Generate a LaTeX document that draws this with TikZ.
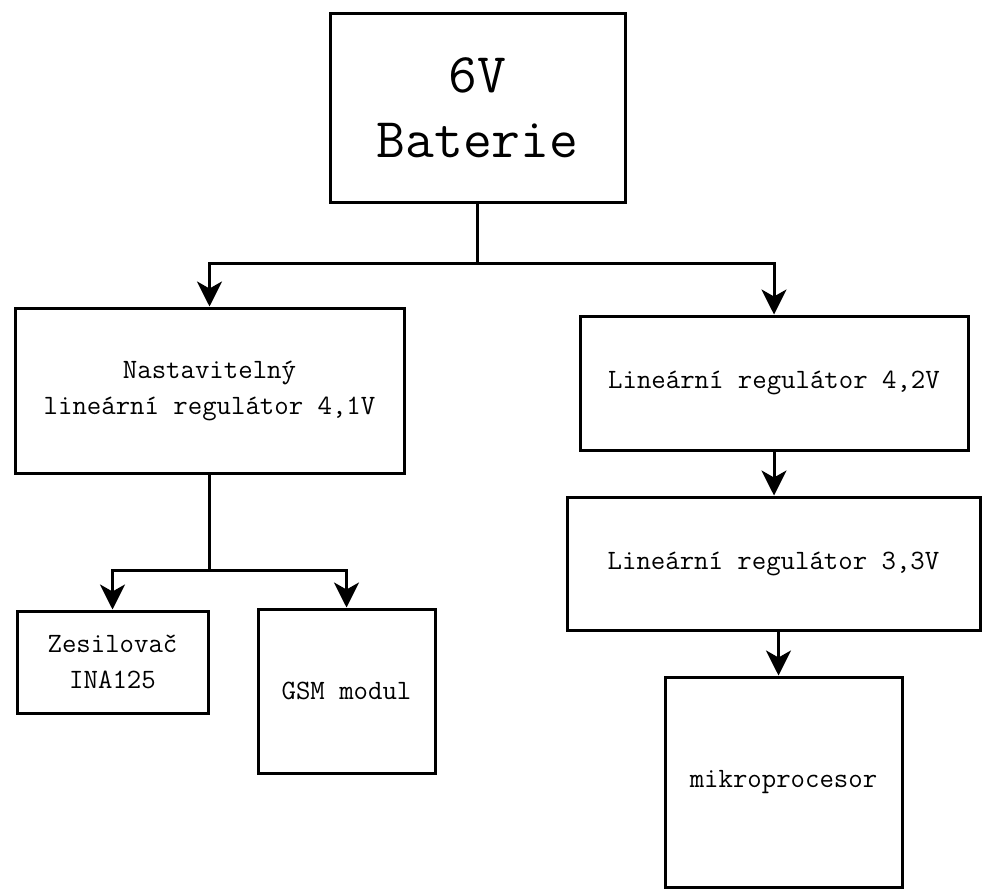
\documentclass[tikz,border=0pt]{standalone}
\usepackage{fontspec}
\usepackage{tikz}
\usetikzlibrary{arrows.meta,calc}

\begin{document}
\begin{tikzpicture}[x=1pt, y=-1pt,
    blok/.style={draw, line width=3pt, inner sep=0pt, align=center,
      font=\fontsize{28}{36}\selectfont\ttfamily},
    sipka/.style={line width=3pt, -{Stealth[length=25pt, width=25pt, inset=7pt]}}]
  % Fix the page size
  \useasboundingbox (0,0) rectangle (983,889);

  % Draw the battery
  \node[blok, minimum width=295pt, minimum height=189pt,
    font=\fontsize{56}{65}\selectfont\ttfamily] (bat) at (477.5,107.5) {6V\\Baterie};

  % Draw the regulators
  \node[blok, minimum width=389pt, minimum height=165pt] (reg41) at (209.5,390.5)
    {Nastavitelný\\lineární regulátor 4,1V};
  \node[blok, minimum width=388pt, minimum height=134pt] (reg42) at (774,383)
    {Lineární regulátor 4,2V};
  \node[blok, minimum width=413pt, minimum height=133pt] (reg33) at (773.5,563.5)
    {Lineární regulátor 3,3V};

  % Draw the loads
  \node[blok, minimum width=191pt, minimum height=102pt] (zes) at (112.5,662)
    {Zesilovač\\INA125};
  \node[blok, minimum width=177pt, minimum height=164pt] (gsm) at (346.5,691)
    {GSM modul};
  \node[blok, minimum width=237pt, minimum height=210pt] (mcu) at (783.5,782)
    {mikroprocesor};

  % Draw the branch from the battery
  \coordinate (rozb1) at (477.5,263);
  \draw[line width=3pt] (bat.south) -- (rozb1);
  \draw[sipka] (rozb1) -| (reg41.north);
  \draw[sipka] (rozb1) -| (reg42.north);

  % Draw the chain on the right
  \draw[sipka] (reg42.south) -- (reg42.south |- reg33.north);
  \draw[sipka] ([xshift=-5pt]mcu.north |- reg33.south) -- ([xshift=-5pt]mcu.north);

  % Draw the branch from the adjustable regulator
  \coordinate (rozb2) at (209.5,570);
  \draw[line width=3pt] (reg41.south) -- (rozb2);
  \draw[sipka] (rozb2) -| (zes.north);
  \draw[sipka] (rozb2) -| (gsm.north);
\end{tikzpicture}
\end{document}
